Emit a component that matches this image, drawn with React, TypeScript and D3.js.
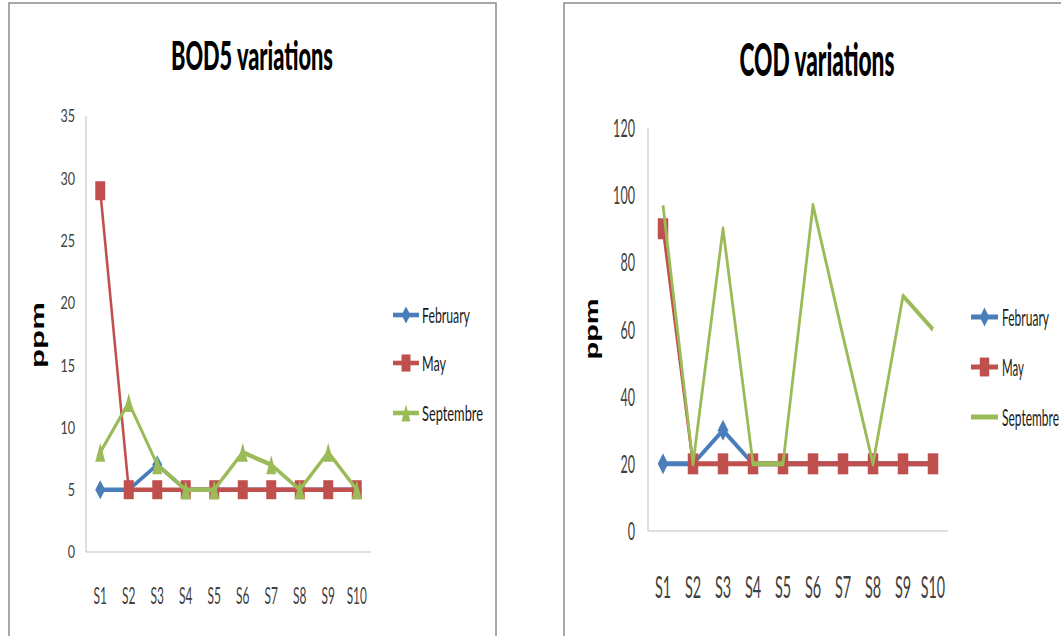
import { useEffect, useRef } from "react";
import * as d3 from "d3";

// ---- data ------------------------------------------------------------
const sites = ["S1", "S2", "S3", "S4", "S5", "S6", "S7", "S8", "S9", "S10"];
const months = ["February", "May", "Septembre"];

const bodFebruary = [5, 5, 7, 5, 5, 5, 5, 5, 5, 5];
const bodMay = [29, 5, 5, 5, 5, 5, 5, 5, 5, 5];
const bodSeptembre = [8, 12, 7, 5, 5, 8, 7, 5, 8, 5];
const bodTicks = [0, 5, 10, 15, 20, 25, 30, 35];

const codFebruary = [20, 20, 30, 20, 20, 20, 20, 20, 20, 20];
const codMay = [90, 20, 20, 20, 20, 20, 20, 20, 20, 20];
const codSeptembre = [97, 20, 90, 20, 20, 97, 58, 20, 70, 60];
const codTicks = [0, 20, 40, 60, 80, 100, 120];

type Marker = "diamond" | "square" | "triangle" | null;
type Series = { name: string; color: string; values: number[]; marker: Marker };

const BLUE = "#4a7ebb";
const RED = "#c0504d";
const GREEN = "#9bbb59";

// The source picture is squeezed horizontally; lines are drawn in a group
// scaled by SX so their thickness differs between flat and steep parts.
const SX = 0.55;

type Spec = {
  title: string;
  titleX: number;
  titleY: number;
  titleSize: number;
  titleWidth: number;
  frame: [number, number, number, number];
  left: number;
  right: number;
  top: number;
  bottom: number;
  max: number;
  ticks: number[];
  tickRight: number;
  tickSize: number;
  tickCharW: number;
  catBaseline: number;
  catSize: number;
  catCharW: number;
  ppmX: number;
  ppmY: number;
  ppmSize: number;
  ppmLen: number;
  legX0: number;
  legX1: number;
  legTextX: number;
  legY: number[];
  legSize: number;
  legWidths: number[];
  legBase: number;
  mw: number;
  mh: number;
  stroke: number;
  series: Series[];
};

const bodSpec: Spec = {
  title: "BOD5 variations",
  titleX: 252,
  titleY: 70,
  titleSize: 39,
  titleWidth: 162,
  frame: [9, 3, 496, 660],
  left: 86,
  right: 371,
  top: 116,
  bottom: 552,
  max: 35,
  ticks: bodTicks,
  tickRight: 75,
  tickSize: 18,
  tickCharW: 7.3,
  catBaseline: 604,
  catSize: 23,
  catCharW: 6.7,
  ppmX: 44,
  ppmY: 335,
  ppmSize: 18,
  ppmLen: 66,
  legX0: 393,
  legX1: 419,
  legTextX: 422,
  legY: [315, 363, 413],
  legSize: 22,
  legWidths: [48, 24, 61],
  legBase: 8,
  mw: 10,
  mh: 19,
  stroke: 4.6,
  series: [
    { name: months[0], color: BLUE, values: bodFebruary, marker: "diamond" },
    { name: months[1], color: RED, values: bodMay, marker: "square" },
    { name: months[2], color: GREEN, values: bodSeptembre, marker: "triangle" },
  ],
};

const codSpec: Spec = {
  title: "COD variations",
  titleX: 817,
  titleY: 76,
  titleSize: 46,
  titleWidth: 155,
  frame: [564, 3, 1100, 660],
  left: 648,
  right: 948,
  top: 128,
  bottom: 531,
  max: 120,
  ticks: codTicks,
  tickRight: 635,
  tickSize: 25,
  tickCharW: 7.3,
  catBaseline: 598,
  catSize: 30,
  catCharW: 8.1,
  ppmX: 598,
  ppmY: 329,
  ppmSize: 19,
  ppmLen: 61,
  legX0: 971,
  legX1: 998,
  legTextX: 1002,
  legY: [317, 367, 417],
  legSize: 23,
  legWidths: [47, 22, 57],
  legBase: 9,
  mw: 10.5,
  mh: 21,
  stroke: 5,
  series: [
    { name: months[0], color: BLUE, values: codFebruary, marker: "diamond" },
    { name: months[1], color: RED, values: codMay, marker: "square" },
    { name: months[2], color: GREEN, values: codSeptembre, marker: null },
  ],
};

function markerPath(m: Marker, w: number, h: number): string {
  if (m === "diamond") return `M0,${-h / 2}L${w / 2},0L0,${h / 2}L${-w / 2},0Z`;
  if (m === "triangle") return `M0,${-h / 2}L${w / 2},${h / 2}L${-w / 2},${h / 2}Z`;
  if (m === "square") return `M${-w / 2},${-h / 2}h${w}v${h}h${-w}Z`;
  return "";
}

type G = d3.Selection<SVGGElement, unknown, null, undefined>;

// Squeeze a text horizontally to a target width (the reference glyphs are
// narrow). x is the left edge.
function fitText(
  parent: G,
  txt: string,
  x: number,
  y: number,
  width: number,
  font: string,
  size: number,
  weight: number,
  fill: string,
) {
  const t = parent
    .append("text")
    .attr("font-family", font)
    .attr("font-size", size)
    .attr("font-weight", weight)
    .attr("fill", fill)
    .text(txt);
  const natural = (t.node() as SVGTextElement).getComputedTextLength() || width;
  t.attr("transform", `translate(${x},${y}) scale(${width / natural},1)`);
  return t;
}

const LATO = "Lato, 'Open Sans', sans-serif";

function drawChart(svg: d3.Selection<SVGSVGElement, unknown, null, undefined>, s: Spec) {
  const g = svg.append("g") as unknown as G;
  const [fx0, fy0, fx1, fy1] = s.frame;
  g.append("rect")
    .attr("x", fx0)
    .attr("y", fy0)
    .attr("width", fx1 - fx0)
    .attr("height", fy1 - fy0)
    .attr("fill", "#fff")
    .attr("stroke", "#8c8c8c")
    .attr("stroke-width", 1.5);

  const x = d3.scalePoint<string>().domain(sites).range([s.left, s.right]).padding(0.5);
  const y = d3.scaleLinear().domain([0, s.max]).range([s.bottom, s.top]);

  // title
  fitText(g, s.title, s.titleX - s.titleWidth / 2, s.titleY, s.titleWidth, LATO, s.titleSize, 900, "#000");

  // axes
  g.append("line")
    .attr("x1", s.left)
    .attr("x2", s.left)
    .attr("y1", s.top)
    .attr("y2", s.bottom)
    .attr("stroke", "#bfbfbf")
    .attr("stroke-width", 1);
  g.append("line")
    .attr("x1", s.left)
    .attr("x2", s.right)
    .attr("y1", s.bottom)
    .attr("y2", s.bottom)
    .attr("stroke", "#bfbfbf")
    .attr("stroke-width", 1);

  s.ticks.forEach((d) => {
    const label = String(d);
    const w = label.length * s.tickCharW;
    fitText(g, label, s.tickRight - w, y(d) + s.tickSize * 0.36, w, LATO, s.tickSize, 400, "#404040");
  });

  sites.forEach((d) => {
    const w = d.length * s.catCharW;
    fitText(g, d, (x(d) ?? 0) - w / 2, s.catBaseline, w, LATO, s.catSize, 400, "#404040");
  });

  // y title
  g.append("text")
    .attr("transform", `translate(${s.ppmX},${s.ppmY + s.ppmLen / 2}) rotate(-90)`)
    .attr("font-family", "'Liberation Sans', Arial, sans-serif")
    .attr("font-weight", 700)
    .attr("font-size", s.ppmSize)
    .attr("textLength", s.ppmLen)
    .attr("lengthAdjust", "spacingAndGlyphs")
    .attr("fill", "#000")
    .text("ppm");

  // series
  const line = d3
    .line<number>()
    .x((_d, i) => (x(sites[i]) ?? 0) / SX)
    .y((d) => y(d));

  s.series.forEach((ser) => {
    const sg = g.append("g");
    sg.append("g")
      .attr("transform", `scale(${SX},1)`)
      .append("path")
      .attr("d", line(ser.values))
      .attr("fill", "none")
      .attr("stroke", ser.color)
      .attr("stroke-width", s.stroke)
      .attr("stroke-linejoin", "round");
    if (ser.marker) {
      sg.append("g")
        .selectAll("path")
        .data(ser.values)
        .join("path")
        .attr("transform", (d, i) => `translate(${x(sites[i])},${y(d)})`)
        .attr("d", markerPath(ser.marker, s.mw, s.mh))
        .attr("fill", ser.color);
    }
  });

  // legend
  s.series.forEach((ser, i) => {
    const ly = s.legY[i];
    const lg = g.append("g") as unknown as G;
    lg.append("g")
      .attr("transform", `scale(${SX},1)`)
      .append("line")
      .attr("x1", s.legX0 / SX)
      .attr("x2", s.legX1 / SX)
      .attr("y1", ly)
      .attr("y2", ly)
      .attr("stroke", ser.color)
      .attr("stroke-width", s.stroke);
    if (ser.marker) {
      lg.append("path")
        .attr("transform", `translate(${(s.legX0 + s.legX1) / 2},${ly})`)
        .attr("d", markerPath(ser.marker, s.mw * 0.9, s.mh * 0.9))
        .attr("fill", ser.color);
    }
    fitText(lg, ser.name, s.legTextX, ly + s.legBase, s.legWidths[i], LATO, s.legSize, 400, "#1a1a1a");
  });
}

export default function App(): JSX.Element {
  const ref = useRef<SVGSVGElement | null>(null);

  useEffect(() => {
    if (!ref.current) return;
    const svg = d3.select(ref.current);
    svg.selectAll("*").remove();
    svg.append("rect").attr("width", 1061).attr("height", 636).attr("fill", "#fff");
    drawChart(svg, bodSpec);
    drawChart(svg, codSpec);
  }, []);

  return (
    <svg
      ref={ref}
      width={1061}
      height={636}
      style={{ position: "absolute", left: 0, top: 0, display: "block" }}
    />
  );
}
